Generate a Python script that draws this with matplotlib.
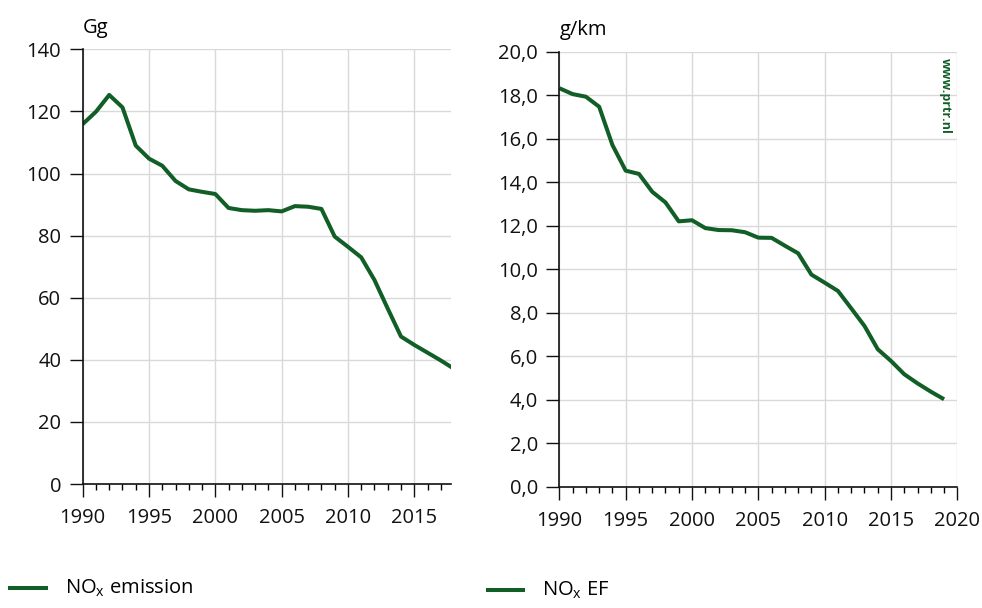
import matplotlib
matplotlib.use('Agg')
import matplotlib.pyplot as plt
from matplotlib.ticker import FuncFormatter, MultipleLocator

# NOx emission (Gg), 1990-2018
emis_years = list(range(1990, 2019))
emis_values = [115.9, 119.9, 125.3, 121.3, 109.0, 104.8, 102.5, 97.6, 94.9, 94.1,
               93.4, 88.9, 88.2, 88.0, 88.2, 87.8, 89.5, 89.3, 88.6, 79.7,
               76.4, 73.0, 65.7, 56.5, 47.5, 44.8, 42.3, 39.8, 37.1]

# NOx emission factor (g/km), 1990-2019
ef_years = list(range(1990, 2020))
ef_values = [18.32, 18.05, 17.93, 17.47, 15.71, 14.53, 14.38, 13.56, 13.07, 12.20,
             12.25, 11.89, 11.80, 11.79, 11.70, 11.45, 11.44, 11.08, 10.73, 9.75,
             9.38, 9.00, 8.20, 7.39, 6.32, 5.78, 5.17, 4.75, 4.37, 4.02]

line_color = '#115e26'
grid_color = '#d9d9d9'
plt.rcParams['font.family'] = ['Open Sans', 'DejaVu Sans']

fig = plt.figure(figsize=(9.82, 6.08), dpi=100)
ax1 = fig.add_axes([0.0842, 0.2039, 0.3748, 0.715])
ax2 = fig.add_axes([0.5696, 0.1995, 0.4053, 0.7155])


def style_axis(ax):
    for side in ('top', 'right'):
        ax.spines[side].set_visible(False)
    for side in ('left', 'bottom'):
        ax.spines[side].set_linewidth(1.2)
        ax.spines[side].set_color('#111111')
    ax.grid(True, color=grid_color, linewidth=1.0)
    ax.set_axisbelow(True)
    ax.xaxis.set_major_locator(MultipleLocator(5))
    ax.xaxis.set_minor_locator(MultipleLocator(1))
    ax.tick_params(axis='both', which='major', direction='out', length=9.5,
                   width=1.0, labelsize=14.5, colors='#111111', pad=6)
    ax.tick_params(axis='x', which='major', pad=8)
    ax.tick_params(axis='x', which='minor', direction='out', length=4.5, width=1.0)
    ax.tick_params(axis='y', which='minor', left=False)


# Left panel: emission
ax1.plot(emis_years, emis_values, color=line_color, linewidth=2.9, solid_capstyle='butt')
ax1.set_xlim(1990, 2017.75)
ax1.set_ylim(0, 140)
ax1.yaxis.set_major_locator(MultipleLocator(20))
style_axis(ax1)
ax1.set_xticks([1990, 1995, 2000, 2005, 2010, 2015])
ax1.text(0.0, 1.05, 'Gg', transform=ax1.transAxes, fontsize=14.5, ha='left', va='center')

# Right panel: emission factor
ax2.plot(ef_years, ef_values, color=line_color, linewidth=2.9, solid_capstyle='butt')
ax2.set_xlim(1990, 2020)
ax2.set_ylim(0, 20)
ax2.yaxis.set_major_locator(MultipleLocator(2))
ax2.yaxis.set_major_formatter(FuncFormatter(lambda v, p: f'{v:.1f}'.replace('.', ',')))
style_axis(ax2)
ax2.text(0.0, 1.05, 'g/km', transform=ax2.transAxes, fontsize=14.5, ha='left', va='center')
ax2.text(0.985, 0.985, 'www.prtr.nl', transform=ax2.transAxes, rotation=-90,
         fontsize=9, fontweight='bold', color=line_color, ha='right', va='top')

# Legends drawn at the bottom of the figure
fig.add_artist(plt.Line2D([10 / 982, 46 / 982], [1 - 588 / 608] * 2,
                          color=line_color, linewidth=2.9, transform=fig.transFigure))
fig.text(65 / 982, 1 - 588 / 608, r'NO$_\mathregular{x}$ emission', fontsize=14.5,
         ha='left', va='center')
fig.add_artist(plt.Line2D([488 / 982, 523 / 982], [1 - 590 / 608] * 2,
                          color=line_color, linewidth=2.9, transform=fig.transFigure))
fig.text(542 / 982, 1 - 590 / 608, r'NO$_\mathregular{x}$ EF', fontsize=14.5,
         ha='left', va='center')

fig.savefig('out.png', dpi=100)
